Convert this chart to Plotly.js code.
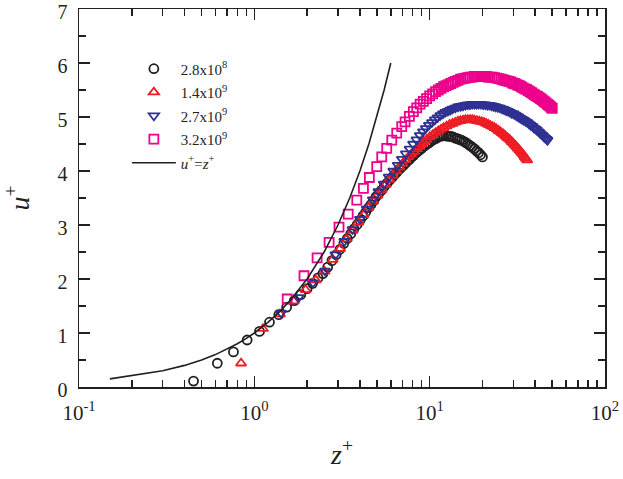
<!DOCTYPE html>
<html>
<head>
<meta charset="utf-8">
<script src="https://cdn.plot.ly/plotly-3.0.1.min.js"></script>
<style>html,body{margin:0;padding:0;background:#fff;}#chart{width:623px;height:479px;}</style>
</head>
<body>
<div id="chart"></div>
<script>
// ---- data ----
const seriesNames = ["2.8x10<sup>8</sup>", "1.4x10<sup>9</sup>", "2.7x10<sup>9</sup>", "3.2x10<sup>9</sup>"];
const lineName = "<i>u</i><sup>+</sup>=<i>z</i><sup>+</sup>";

const zBlack = [0.45,0.615,0.76,0.91,1.07,1.22,1.38,1.53,1.69,1.84,2.0,2.15,2.31,2.46,2.62,2.77,2.93,3.08,3.24,3.39,3.55,3.7,3.86,4.01,4.17,4.32,4.48,4.63,4.79,4.94,5.1,5.3,5.5,5.7,5.9,6.1,6.3,6.5,6.7,6.9,7.1,7.3,7.5,7.7,7.9,8.1,8.4,8.7,9.0,9.3,9.6,9.9,10.2,10.5,10.8,11.1,11.4,11.7,12.0,12.4,12.8,13.2,13.6,14.0,14.4,14.8,15.2,15.6,16.0,16.5,17.0,17.5,18.0,18.5,19.0,19.5,20.0];
const uBlack = [0.11,0.44,0.65,0.87,1.03,1.2,1.34,1.48,1.6,1.71,1.82,1.92,2.02,2.1,2.22,2.34,2.45,2.55,2.66,2.75,2.84,2.93,3.01,3.09,3.17,3.24,3.32,3.38,3.45,3.52,3.57,3.64,3.71,3.77,3.83,3.88,3.93,3.98,4.03,4.07,4.11,4.15,4.19,4.22,4.26,4.29,4.34,4.38,4.42,4.46,4.49,4.52,4.55,4.58,4.6,4.62,4.64,4.65,4.65,4.65,4.64,4.64,4.63,4.61,4.6,4.58,4.57,4.55,4.53,4.5,4.47,4.44,4.41,4.37,4.34,4.3,4.26];

const zRed = [0.84,1.12,1.4,1.68,1.96,2.24,2.52,2.8,3.08,3.36,3.64,3.92,4.2,4.48,4.76,5.04,5.32,5.6,5.88,6.16,6.44,6.72,7.0,7.28,7.56,7.84,8.12,8.4,8.68,8.96,9.24,9.6,10.0,10.4,10.8,11.2,11.6,12.0,12.5,13.0,13.5,14.0,14.5,15.0,15.5,16.0,16.5,17.0,17.5,18.0,18.6,19.2,19.8,20.4,21.0,21.6,22.2,22.8,23.4,24.0,24.6,25.2,25.8,26.4,27.0,27.6,28.2,28.8,29.4,30.0,30.6,31.2,31.8,32.4,33.0,33.6,34.2,34.8,35.4,36.0];
const uRed = [0.44,1.08,1.35,1.59,1.8,1.98,2.14,2.36,2.56,2.74,2.9,3.05,3.19,3.32,3.44,3.55,3.65,3.75,3.84,3.92,4.0,4.07,4.14,4.2,4.26,4.31,4.36,4.41,4.45,4.5,4.54,4.58,4.63,4.67,4.71,4.74,4.77,4.8,4.83,4.86,4.88,4.9,4.92,4.93,4.94,4.95,4.95,4.95,4.95,4.94,4.93,4.92,4.91,4.9,4.88,4.86,4.84,4.82,4.8,4.78,4.75,4.73,4.7,4.68,4.65,4.62,4.6,4.57,4.54,4.51,4.48,4.45,4.42,4.39,4.36,4.33,4.3,4.26,4.23,4.2];

const zBlue = [1.42,1.79,2.16,2.53,2.9,3.26,3.63,4.0,4.37,4.74,5.1,5.47,5.84,6.2,6.57,6.94,7.31,7.68,8.04,8.41,8.78,9.15,9.5,9.9,10.3,10.7,11.1,11.5,11.9,12.3,12.7,13.1,13.5,14.0,14.5,15.0,15.5,16.0,16.5,17.0,17.5,18.0,18.5,19.0,19.6,20.2,20.8,21.4,22.0,22.6,23.2,23.8,24.5,25.2,25.9,26.6,27.3,28.0,28.7,29.4,30.1,30.8,31.5,32.2,32.9,33.7,34.5,35.3,36.1,36.9,37.7,38.5,39.3,40.1,40.9,41.7,42.5,43.3,44.1,44.9,45.7,46.5,47.0];
const uBlue = [1.37,1.66,1.93,2.15,2.45,2.7,2.92,3.11,3.3,3.47,3.62,3.76,3.89,4.0,4.11,4.22,4.32,4.41,4.5,4.58,4.66,4.73,4.79,4.85,4.9,4.95,4.99,5.03,5.06,5.09,5.11,5.13,5.15,5.17,5.19,5.2,5.21,5.22,5.23,5.23,5.24,5.24,5.24,5.24,5.24,5.23,5.23,5.22,5.22,5.21,5.2,5.19,5.18,5.17,5.15,5.14,5.12,5.11,5.09,5.07,5.06,5.04,5.02,5.0,4.98,4.96,4.94,4.92,4.9,4.87,4.85,4.83,4.8,4.78,4.76,4.73,4.71,4.68,4.66,4.63,4.61,4.59,4.57];

const zPink = [1.54,1.92,2.28,2.67,3.04,3.43,3.84,4.19,4.53,4.99,5.33,5.69,6.08,6.49,6.93,7.24,7.66,8.07,8.44,8.82,9.2,9.6,10.0,10.4,10.8,11.2,11.6,12.0,12.4,12.8,13.2,13.6,14.0,14.5,15.0,15.5,16.0,16.5,17.0,17.5,18.0,18.5,19.0,19.5,20.0,20.5,21.0,21.5,22.0,22.7,23.4,24.1,24.8,25.5,26.2,26.9,27.6,28.3,29.0,29.7,30.4,31.1,31.8,32.5,33.3,34.1,34.9,35.7,36.5,37.3,38.1,38.9,39.7,40.5,41.3,42.1,42.9,43.7,44.5,45.3,46.1,46.9,47.7,48.5,49.3,50.0];
const uPink = [1.63,2.06,2.39,2.68,2.96,3.2,3.46,3.68,3.88,4.08,4.26,4.42,4.57,4.7,4.82,4.91,5.01,5.1,5.17,5.24,5.29,5.34,5.39,5.43,5.47,5.5,5.53,5.56,5.58,5.6,5.62,5.64,5.66,5.68,5.7,5.71,5.72,5.73,5.74,5.74,5.75,5.75,5.75,5.75,5.75,5.75,5.75,5.74,5.74,5.74,5.73,5.72,5.71,5.7,5.69,5.68,5.67,5.66,5.65,5.63,5.62,5.61,5.59,5.58,5.56,5.54,5.52,5.51,5.49,5.47,5.45,5.43,5.41,5.39,5.38,5.36,5.34,5.32,5.3,5.28,5.26,5.24,5.22,5.2,5.18,5.16];

const zLine = [0.15,0.3,0.4,0.5,0.6,0.7,0.8,0.9,1.0,1.2,1.4,1.6,1.8,2.0,2.5,3.0,3.5,4.0,4.5,5.0,5.5,6.0];
const uLine = [0.15,0.3,0.4,0.5,0.6,0.7,0.8,0.9,1.0,1.2,1.4,1.6,1.8,2.0,2.5,3.0,3.5,4.0,4.5,5.0,5.5,6.0];

const xTickVals = [0.1, 1, 10, 100];
const xTickText = ["10<sup>-1</sup>", "10<sup>0</sup>", "10<sup>1</sup>", "10<sup>2</sup>"];
const yTickVals = [0,1,2,3,4,5,6,7];
const yTickText = ["0","1","2","3","4","5","6","7"];

// ---- styling ----
const ink = "#231f20";
const colors = ["#231f20", "#ed1c24", "#2e3192", "#ec008c"];
const symbols = ["circle-open", "triangle-up-open", "triangle-down-open", "square-open"];
const font = "'Liberation Serif', 'Times New Roman', serif";

const xs = [zBlack, zRed, zBlue, zPink];
const us = [uBlack, uRed, uBlue, uPink];

const traces = xs.map((x, i) => ({
  x: x, y: us[i], type: "scatter", mode: "markers", name: seriesNames[i],
  legendgroup: "g" + i, cliponaxis: false,
  marker: {symbol: symbols[i], size: 9, color: colors[i], line: {width: 1.8, color: colors[i]}}
}));
traces.push({
  x: zLine, y: uLine, type: "scatter", mode: "lines", name: lineName,
  legendgroup: "g4",
  line: {color: ink, width: 1.6}
});

const axisCommon = {
  showline: true, linecolor: ink, linewidth: 1.5, mirror: "ticks",
  ticks: "inside", ticklen: 11, tickwidth: 1.5, tickcolor: ink,
  showgrid: false, zeroline: false, ticklabeloverflow: "allow",
  tickfont: {family: font, size: 21, color: ink}
};

const layout = {
  width: 623, height: 479,
  margin: {l: 79, r: 18, t: 9, b: 92},
  paper_bgcolor: "#fff", plot_bgcolor: "#fff",
  font: {family: font, color: ink},
  showlegend: true,
  legend: {
    x: 0.091, y: 0.885, xanchor: "left", yanchor: "top",
    bgcolor: "rgba(0,0,0,0)", borderwidth: 0,
    font: {family: font, size: 15, color: ink},
    tracegroupgap: 1, itemwidth: 44
  },
  xaxis: Object.assign({}, axisCommon, {
    type: "log", range: [-1, 2],
    tickvals: xTickVals, ticktext: xTickText,
    ticklabelstandoff: 6,
    minor: {ticks: "inside", ticklen: 7, tickwidth: 1.5, tickcolor: ink, dtick: "D1"},
    title: {text: "<i>z</i><sup>+</sup>", font: {family: font, size: 28, color: ink}, standoff: 20}
  }),
  yaxis: Object.assign({}, axisCommon, {
    range: [0, 7], tickvals: yTickVals, ticktext: yTickText,
    ticklabelstandoff: 6, ticklabelshift: 3,
    tickfont: {family: font, size: 20, color: ink},
    minor: {ticks: "inside", ticklen: 7, tickwidth: 1.5, tickcolor: ink, dtick: 0.5},
    title: {text: "<i>u</i><sup>+</sup>", font: {family: font, size: 28, color: ink}, standoff: 22}
  })
};

Plotly.newPlot("chart", traces, layout, {displayModeBar: false, staticPlot: true});
</script>
</body>
</html>
